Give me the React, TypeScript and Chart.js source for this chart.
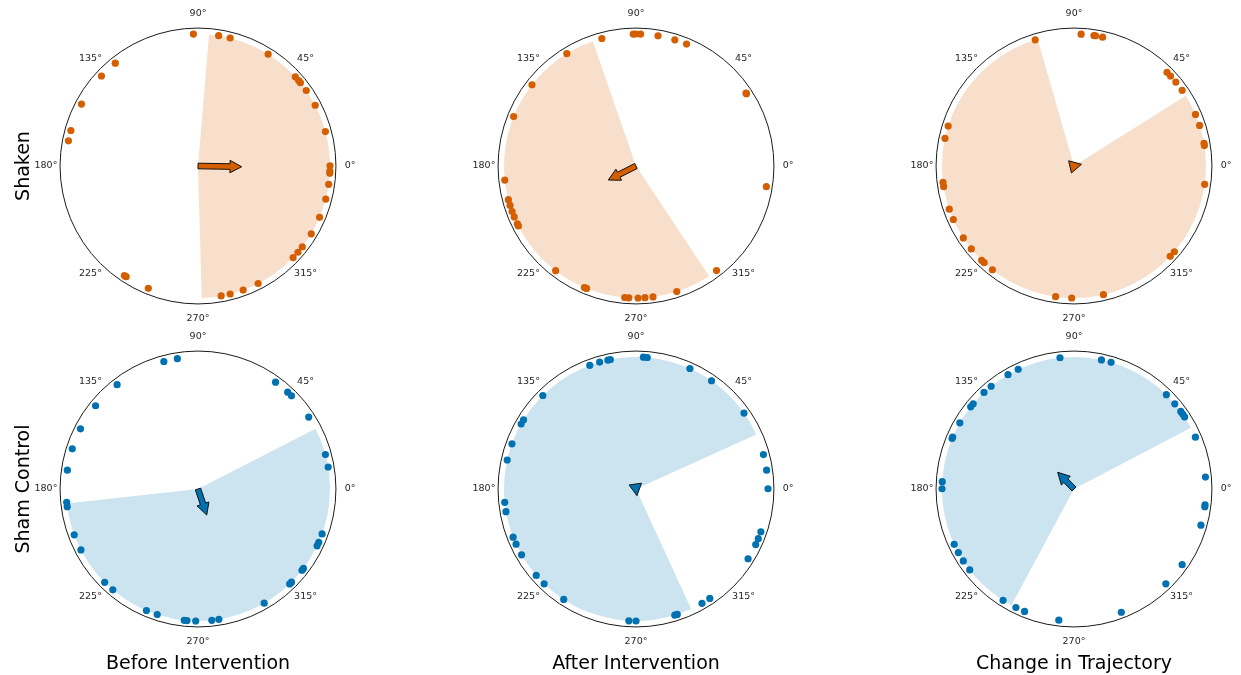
import React, { useEffect, useRef } from "react";
import { Chart, registerables } from "chart.js";

Chart.register(...registerables);

// ---- labels ----
const angleTicks = [0, 45, 90, 135, 180, 225, 270, 315];
const rowLabels = ["Shaken", "Sham Control"];
const columnLabels = ["Before Intervention", "After Intervention", "Change in Trajectory"];

// ---- observed angles (degrees) ----
const shakenBefore = [92.0, 81.0, 75.9, 57.9, 42.5, 40.3, 39.1, 34.9, 27.4, 15.1, 0.1, -2.2, -3.2, -8.0, -14.5, -22.9, -30.9, -37.8, -40.8, -43.9, -62.9, -70.0, -75.9, -79.9, 247.9, 237.0, 236.1, 169.0, 164.4, 152.0, 137.0, 128.8];
const shakenAfter = [105.0, 91.2, 90.0, 88.0, 80.4, 72.9, 67.5, 33.5, 33.2, -9.0, -52.4, -72.0, -82.6, -86.1, -89.1, 266.9, 265.1, 248.0, 247.0, 232.5, 207.0, 206.0, 202.7, 200.2, 197.4, 194.8, 186.1, 158.0, 142.0, 121.6];
const shakenChange = [86.9, 81.3, 80.6, 77.5, 45.2, 43.0, 39.5, 35.0, 23.0, 17.9, 9.9, 8.9, -8.0, -40.5, -43.2, -77.1, 269.0, 262.0, 231.8, 227.1, 225.6, 218.9, 213.0, 203.9, 199.1, 189.0, 187.1, 167.9, 162.4, 107.1];
const shamBefore = [105.0, 99.0, 127.8, 140.9, 152.9, 162.3, 171.8, 185.8, 187.7, 200.3, 207.5, 225.0, 229.8, 247.0, 252.0, 264.0, 265.2, 269.0, 276.0, 279.1, 300.1, 314.0, 315.1, 322.0, 323.0, 334.5, 336.2, 340.1, 9.6, 15.1, 33.0, 44.9, 47.2, 54.0];
const shamAfter = [86.8, 85.1, 101.2, 102.3, 106.0, 110.5, 65.9, 55.1, 35.1, 134.9, 148.4, 150.5, 160.0, 167.3, 185.8, 189.9, 201.4, 204.7, 209.9, 220.9, 225.9, 236.8, 266.9, 270.0, 287.1, 288.2, 300.0, 304.0, 328.1, 335.1, 337.9, 341.1, 0.1, 8.2, 15.1];
const shamChange = [96.1, 78.0, 73.7, 115.0, 120.0, 128.9, 133.0, 139.8, 141.5, 149.9, 156.8, 157.5, 176.8, 179.9, 204.8, 208.8, 213.0, 217.8, 237.5, 243.9, 248.0, 263.4, 291.0, 314.1, 325.0, 344.1, 352.3, 353.1, 5.2, 23.1, 33.1, 34.6, 36.0, 40.2, 45.6];

const panelAngles = [shakenBefore, shakenAfter, shakenChange, shamBefore, shamAfter, shamChange];

// shaded sector, counter-clockwise from start to end (degrees)
const sectorStart = [-88.4, 109.1, 106.0, 186.3, 24.4, 27.7];
const sectorEnd = [85.2, 303.6, 392.2, 387.1, 294.7, 241.7];

// mean vector
const meanAngle = [-1.0, 206.8, 13.0, -71.5, -82.0, 134.3];
const meanLength = [0.331, 0.235, 0.058, 0.208, 0.051, 0.177];

// ---- styles ----
const ORANGE = "#D55E00";
const BLUE = "#0072B2";
const ORANGE_SHADE = "rgba(213,94,0,0.2)";
const BLUE_SHADE = "rgba(0,114,178,0.2)";
const CANVAS = 340;
const LIM = 170 / 132;
const FRAME_R = 1.045;
const LABEL_R = 1.152;
const centersX = [198, 636, 1074];
const centersY = [166, 489];

const polarDeco = {
  id: "polarDeco",
  beforeDatasetsDraw(chart: any, _args: any, opts: any) {
    const { ctx } = chart;
    const x = chart.scales.x;
    const y = chart.scales.y;
    const cx = x.getPixelForValue(0);
    const cy = y.getPixelForValue(0);
    const r = x.getPixelForValue(1) - cx;
    ctx.save();
    ctx.beginPath();
    ctx.moveTo(cx, cy);
    ctx.arc(cx, cy, r, (-opts.start * Math.PI) / 180, (-opts.end * Math.PI) / 180, true);
    ctx.closePath();
    ctx.fillStyle = opts.shade;
    ctx.fill();
    const fr = x.getPixelForValue(FRAME_R) - cx;
    ctx.beginPath();
    ctx.arc(cx, cy, fr, 0, Math.PI * 2);
    ctx.strokeStyle = "#1a1a1a";
    ctx.lineWidth = 1;
    ctx.stroke();
    ctx.restore();
  },
  afterDatasetsDraw(chart: any, _args: any, opts: any) {
    const { ctx } = chart;
    const x = chart.scales.x;
    const y = chart.scales.y;
    const cx = x.getPixelForValue(0);
    const cy = y.getPixelForValue(0);
    ctx.save();
    // angle labels
    ctx.font = '9.5px "DejaVu Sans"';
    ctx.fillStyle = "#262626";
    ctx.textAlign = "center";
    ctx.textBaseline = "middle";
    for (const a of angleTicks) {
      const rad = (a * Math.PI) / 180;
      const px = x.getPixelForValue(LABEL_R * Math.cos(rad));
      const py = y.getPixelForValue(LABEL_R * Math.sin(rad));
      ctx.fillText(a + "°", px, py);
    }
    // mean arrow
    const th = (opts.arrowAngle * Math.PI) / 180;
    const tipX = x.getPixelForValue(opts.arrowLength * Math.cos(th));
    const tipY = y.getPixelForValue(opts.arrowLength * Math.sin(th));
    const L = Math.hypot(tipX - cx, tipY - cy);
    const ux = (tipX - cx) / L;
    const uy = (tipY - cy) / L;
    const vx = -uy;
    const vy = ux;
    const hl = 11.7;
    const hw = 12.5;
    const lw = 5.6;
    const rel: [number, number][] =
      L > hl
        ? [
            [0, 0],
            [-hl, -hw / 2],
            [-hl, -lw / 2],
            [-L, -lw / 2],
            [-L, lw / 2],
            [-hl, lw / 2],
            [-hl, hw / 2],
          ]
        : [
            [0, 0],
            [-hl, -hw / 2],
            [-hl, hw / 2],
          ];
    ctx.beginPath();
    rel.forEach(([a, b], i) => {
      const px = tipX + a * ux + b * vx;
      const py = tipY + a * uy + b * vy;
      if (i === 0) ctx.moveTo(px, py);
      else ctx.lineTo(px, py);
    });
    ctx.closePath();
    ctx.fillStyle = opts.color;
    ctx.fill();
    ctx.strokeStyle = "#111";
    ctx.lineWidth = 1;
    ctx.lineJoin = "miter";
    ctx.stroke();
    ctx.restore();
  },
};

function Panel({ index }: { index: number }) {
  const ref = useRef<HTMLCanvasElement | null>(null);
  const row = Math.floor(index / 3);
  const col = index % 3;
  const color = row === 0 ? ORANGE : BLUE;
  const shade = row === 0 ? ORANGE_SHADE : BLUE_SHADE;

  useEffect(() => {
    if (!ref.current) return;
    const pts = panelAngles[index].map((a) => ({
      x: Math.cos((a * Math.PI) / 180),
      y: Math.sin((a * Math.PI) / 180),
    }));
    const chart = new Chart(ref.current, {
      type: "scatter",
      data: {
        datasets: [
          {
            data: pts,
            pointRadius: 3.6,
            pointHoverRadius: 3.6,
            pointBackgroundColor: color,
            pointBorderWidth: 0,
            showLine: false,
          },
        ],
      },
      options: {
        animation: false,
        responsive: true,
        maintainAspectRatio: false,
        events: [],
        layout: { padding: 0, autoPadding: false },
        scales: {
          x: { type: "linear", min: -LIM, max: LIM, display: false },
          y: { type: "linear", min: -LIM, max: LIM, display: false },
        },
        plugins: {
          legend: { display: false },
          tooltip: { enabled: false },
          polarDeco: {
            start: sectorStart[index],
            end: sectorEnd[index],
            shade,
            color,
            arrowAngle: meanAngle[index],
            arrowLength: meanLength[index],
          },
        } as any,
      },
      plugins: [polarDeco as any],
    });
    return () => chart.destroy();
  }, [index]);

  return (
    <div
      style={{
        position: "absolute",
        left: centersX[col] - CANVAS / 2,
        top: centersY[row] - CANVAS / 2,
        width: CANVAS,
        height: CANVAS,
      }}
    >
      <canvas ref={ref} />
    </div>
  );
}

export default function App() {
  const font = '"DejaVu Sans", sans-serif';
  return (
    <div
      style={{
        position: "absolute",
        left: 0,
        top: 0,
        width: 1241,
        height: 675,
        overflow: "hidden",
        background: "#fff",
        fontFamily: font,
      }}
    >
      {[0, 1, 2, 3, 4, 5].map((i) => (
        <Panel key={i} index={i} />
      ))}
      {columnLabels.map((t, i) => (
        <div
          key={t}
          style={{
            position: "absolute",
            left: centersX[i] - 200,
            width: 400,
            top: 650,
            lineHeight: "24px",
            fontSize: 19,
            textAlign: "center",
            color: "#000",
          }}
        >
          {t}
        </div>
      ))}
      {rowLabels.map((t, i) => (
        <div
          key={t}
          style={{
            position: "absolute",
            left: 22,
            top: centersY[i],
            transform: "translate(-50%, -50%) rotate(-90deg)",
            whiteSpace: "nowrap",
            fontSize: 19,
            lineHeight: "24px",
            color: "#000",
          }}
        >
          {t}
        </div>
      ))}
    </div>
  );
}
